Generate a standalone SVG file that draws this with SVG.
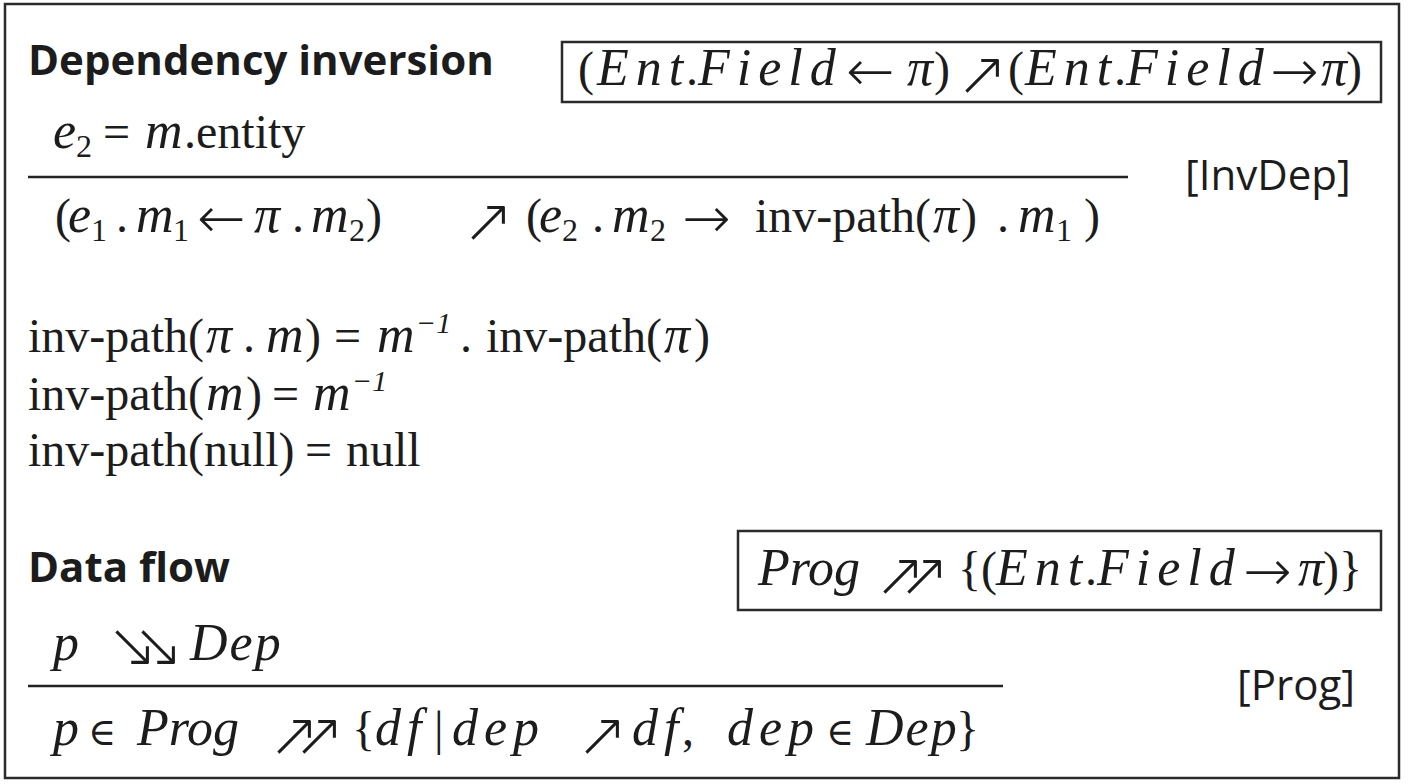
<svg xmlns="http://www.w3.org/2000/svg" width="1408" height="784" viewBox="0 0 1408 784">
<style>
.frame{fill:none;stroke:#2b2b2b;stroke-width:2.5}
.box{fill:none;stroke:#2b2b2b;stroke-width:2.5}
.rule{stroke:#222;stroke-width:2.5}
text{fill:#1c1c1c}
.h{font-family:"Open Sans","Liberation Sans",sans-serif;font-weight:700;font-size:42px}
.lbl{font-family:"Open Sans","Liberation Sans",sans-serif;font-size:42px}
.s{font-family:"Liberation Serif","DejaVu Serif",serif;font-size:48px}
.i{font-style:italic;font-size:52px}
.w0{font-style:italic;font-size:52px}
.w2{font-style:italic;font-size:52px;letter-spacing:2px}
.w6{font-style:italic;font-size:52px;letter-spacing:6px}
.w7{font-style:italic;font-size:52px;letter-spacing:7px}
.el{font-size:38px}
.sub{font-size:32px}
.sup{font-size:30px;font-style:italic}
.ar{font-family:"DejaVu Sans",sans-serif;font-weight:200;font-size:62px}
.ah{font-family:"DejaVu Sans",sans-serif;font-weight:200;font-size:58px}
</style>
<rect class="frame" x="5" y="4" width="1394" height="774"/>

<g id="heading-inversion">
<text class="h" x="28" y="75">Dependency inversion</text>
</g>

<g id="box-inversion">
<rect class="box" x="562" y="42" width="819" height="60"/>
<text class="s" y="85"><tspan x="578">(</tspan><tspan class="w7" x="597">Ent</tspan><tspan x="686">.</tspan><tspan class="w7" x="698">Field</tspan><tspan class="i" x="907">π</tspan><tspan x="934">)</tspan><tspan x="1008">(</tspan><tspan class="w7" x="1025">Ent</tspan><tspan x="1114">.</tspan><tspan class="w7" x="1126">Field</tspan><tspan class="i" x="1321">π</tspan><tspan x="1346">)</tspan></text>
<text class="ah" x="846" y="91">←</text>
<text class="ar" x="956" y="95">↗</text>
<text class="ah" x="1270" y="91">→</text>
</g>

<g id="rule-invdep">
<text class="s" y="148"><tspan class="i" x="53">e</tspan><tspan class="sub" x="76" dy="9">2</tspan><tspan x="103" dy="-9">=</tspan><tspan class="i" x="145">m</tspan><tspan x="184">.entity</tspan></text>
<line class="rule" x1="28" y1="177" x2="1128" y2="177"/>
<text class="s" y="232"><tspan x="55">(</tspan><tspan class="i" x="68">e</tspan><tspan class="sub" x="91" dy="9">1</tspan><tspan x="116" dy="-9">.</tspan><tspan class="i" x="136">m</tspan><tspan class="sub" x="173" dy="9">1</tspan><tspan class="i" x="254" dy="-9">π</tspan><tspan x="292">.</tspan><tspan class="i" x="311">m</tspan><tspan class="sub" x="349" dy="9">2</tspan><tspan x="366" dy="-9">)</tspan><tspan x="526">(</tspan><tspan class="i" x="539">e</tspan><tspan class="sub" x="562" dy="9">2</tspan><tspan x="592" dy="-9">.</tspan><tspan class="i" x="612">m</tspan><tspan class="sub" x="650" dy="9">2</tspan><tspan x="755" dy="-9">inv-path(</tspan><tspan class="i" x="933">π</tspan><tspan x="961">)</tspan><tspan x="997">.</tspan><tspan class="i" x="1018">m</tspan><tspan class="sub" x="1056" dy="9">1</tspan><tspan x="1084" dy="-9">)</tspan></text>
<text class="ah" x="197" y="238">←</text>
<text class="ar" x="462" y="242">↗</text>
<text class="ah" x="682" y="238">→</text>
<text class="lbl" x="1185" y="190">[InvDep]</text>
</g>

<g id="inv-path-equations">
<text class="s" y="352"><tspan x="28">inv-path(</tspan><tspan class="i" x="206">π</tspan><tspan x="243">.</tspan><tspan class="i" x="266">m</tspan><tspan x="305">)</tspan><tspan x="334">=</tspan><tspan class="i" x="377">m</tspan><tspan class="sup" x="416" dy="-19">−1</tspan><tspan x="460" dy="19">.</tspan><tspan x="486">inv-path(</tspan><tspan class="i" x="664">π</tspan><tspan x="694">)</tspan></text>
<text class="s" y="410"><tspan x="28">inv-path(</tspan><tspan class="i" x="206">m</tspan><tspan x="246">)</tspan><tspan x="272">=</tspan><tspan class="i" x="313">m</tspan><tspan class="sup" x="352" dy="-19">−1</tspan></text>
<text class="s" y="466"><tspan x="28">inv-path(null)</tspan><tspan x="305">=</tspan><tspan x="346">null</tspan></text>
</g>

<g id="heading-dataflow">
<text class="h" x="28" y="582">Data flow</text>
</g>

<g id="box-dataflow">
<rect class="box" x="738" y="531" width="643" height="79"/>
<text class="s" y="585"><tspan class="w0" x="758">Prog</tspan><tspan x="958">{(</tspan><tspan class="w7" x="996">Ent</tspan><tspan x="1085">.</tspan><tspan class="w7" x="1097">Field</tspan><tspan class="i" x="1298">π</tspan><tspan x="1323">)}</tspan></text>
<text class="ar" x="874" y="596">↗</text>
<text class="ar" x="898" y="596">↗</text>
<text class="ah" x="1243" y="591">→</text>
</g>

<g id="rule-prog">
<text class="s" y="660"><tspan class="i" x="53">p</tspan><tspan class="w2" x="190">Dep</tspan></text>
<text class="ar" x="106" y="666">↘</text>
<text class="ar" x="132" y="666">↘</text>
<line class="rule" x1="28" y1="686" x2="1003" y2="686"/>
<text class="s" y="745"><tspan class="i" x="53">p</tspan><tspan class="el" x="88">∈</tspan><tspan class="w0" x="137">Prog</tspan><tspan x="352">{</tspan><tspan class="w6" x="375">df</tspan><tspan x="434">|</tspan><tspan class="w6" x="452">dep</tspan><tspan class="w6" x="632">df</tspan><tspan x="682">,</tspan><tspan class="w6" x="727">dep</tspan><tspan class="el" x="826">∈</tspan><tspan class="w2" x="866">Dep</tspan><tspan x="956">}</tspan></text>
<text class="ar" x="268" y="756">↗</text>
<text class="ar" x="293" y="756">↗</text>
<text class="ar" x="576" y="756">↗</text>
<text class="lbl" x="1237" y="700">[Prog]</text>
</g>
</svg>
